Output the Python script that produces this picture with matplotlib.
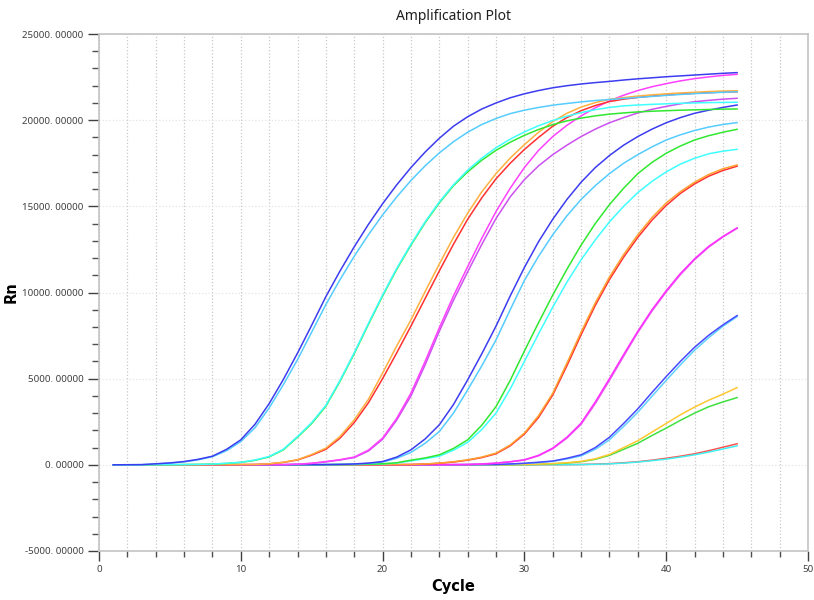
import matplotlib.pyplot as plt
from matplotlib.ticker import MultipleLocator, FuncFormatter

cycles = list(range(1, 46))

# group A (earliest)
blue_a = [0, 5, 10, 60, 110, 190, 320, 500, 900, 1450, 2350, 3550, 4950, 6480, 8100, 9760, 11250, 12650, 13950, 15150,
          16250, 17250, 18150, 18950, 19650, 20200, 20650, 21000, 21300, 21530, 21720, 21880, 22000, 22100, 22180, 22250,
          22330, 22400, 22460, 22520, 22570, 22620, 22670, 22720, 22760]
lblue_a = [0, 5, 10, 50, 95, 170, 290, 470, 820, 1350, 2150, 3300, 4650, 6100, 7700, 9300, 10750, 12100, 13350, 14500,
           15550, 16500, 17350, 18100, 18750, 19300, 19750, 20100, 20380, 20580, 20740, 20870, 20970, 21060, 21140, 21200,
           21260, 21320, 21380, 21440, 21490, 21540, 21580, 21620, 21650]
# group B
green_b = [0, 0, 0, 5, 10, 15, 25, 40, 80, 140, 260, 460, 870, 1600, 2400, 3400, 4850, 6450, 8150, 9800,
           11350, 12750, 14050, 15200, 16200, 17000, 17680, 18250, 18720, 19120, 19460, 19740, 19960, 20120, 20250, 20350,
           20420, 20480, 20520, 20550, 20580, 20600, 20620, 20640, 20650]
cyan_b = [0, 0, 0, 5, 10, 15, 25, 45, 90, 150, 280, 480, 900, 1640, 2450, 3450, 4900, 6500, 8200, 9850,
          11400, 12800, 14100, 15250, 16250, 17100, 17800, 18400, 18900, 19320, 19680, 19980, 20230, 20440, 20610, 20740,
          20830, 20880, 20920, 20950, 20980, 21000, 21020, 21030, 21040]
# group C
orange_c = [0, 0, 0, 0, 0, 5, 5, 10, 10, 15, 20, 60, 150, 300, 600, 970, 1650, 2610, 3800, 5320,
            6900, 8410, 10050, 11650, 13200, 14600, 15850, 16900, 17800, 18580, 19300, 19920, 20400, 20760, 21020, 21210,
            21310, 21400, 21470, 21530, 21580, 21620, 21660, 21690, 21710]
red_c = [0, 0, 0, 0, 0, 5, 5, 10, 10, 15, 20, 55, 140, 280, 560, 900, 1550, 2450, 3600, 5000,
         6500, 8050, 9650, 11250, 12800, 14250, 15500, 16600, 17500, 18300, 19000, 19650, 20150, 20550, 20850, 21080,
         21220, 21320, 21400, 21460, 21520, 21560, 21600, 21630, 21650]
# group D
magenta_d = [0, 0, 0, 0, 0, 0, 0, 5, 5, 5, 5, 10, 10, 40, 90, 190, 300, 450, 850, 1550,
             2700, 4160, 6000, 7950, 9800, 11500, 13150, 14700, 16050, 17250, 18250, 19050, 19700, 20250, 20720, 21120,
             21450, 21720, 21940, 22120, 22280, 22410, 22510, 22600, 22660]
violet_d = [0, 0, 0, 0, 0, 0, 0, 5, 5, 5, 5, 10, 10, 35, 80, 170, 280, 420, 800, 1480,
            2600, 4000, 5800, 7750, 9550, 11200, 12800, 14300, 15550, 16550, 17350, 18000, 18550, 19050, 19480, 19850,
            20150, 20420, 20630, 20800, 20950, 21070, 21150, 21220, 21270]
# group E
blue_e = [0, 0, 0, 0, 0, 0, 0, 0, 0, 0, 5, 5, 5, 10, 10, 15, 25, 50, 100, 190,
          450, 870, 1500, 2320, 3500, 4930, 6450, 8050, 9800, 11450, 12950, 14250, 15400, 16400, 17250, 17950,
          18550, 19050, 19480, 19850, 20150, 20400, 20580, 20740, 20880]
lblue_e = [0, 0, 0, 0, 0, 0, 0, 0, 0, 0, 5, 5, 5, 10, 10, 15, 20, 40, 80, 160,
           380, 720, 1250, 1930, 3000, 4350, 5750, 7250, 9000, 10700, 12100, 13350, 14450, 15400, 16200, 16900,
           17500, 18000, 18450, 18850, 19150, 19400, 19600, 19750, 19860]
# group F
green_f = [0, 0, 0, 0, 0, 0, 0, 0, 0, 0, 0, 0, 5, 5, 5, 10, 15, 20, 40, 60,
           120, 270, 400, 580, 950, 1450, 2300, 3380, 4900, 6600, 8250, 9850, 11350, 12750, 14000, 15100,
           16050, 16900, 17550, 18080, 18500, 18850, 19100, 19300, 19470]
cyan_f = [0, 0, 0, 0, 0, 0, 0, 0, 0, 0, 0, 0, 5, 5, 5, 10, 15, 20, 35, 50,
          100, 230, 350, 500, 850, 1300, 2050, 3000, 4400, 6000, 7600, 9150, 10600, 11900, 13050, 14100,
          15000, 15800, 16450, 17000, 17450, 17790, 18050, 18200, 18310]
# group G
orange_g = [0, 0, 0, 0, 0, 0, 0, 0, 0, 0, 0, 0, 0, 0, 0, 5, 5, 5, 10, 10,
            15, 20, 50, 100, 180, 290, 450, 680, 1150, 1840, 2850, 4150, 5900, 7700, 9400, 10900,
            12200, 13350, 14350, 15200, 15850, 16400, 16850, 17180, 17400]
red_g = [0, 0, 0, 0, 0, 0, 0, 0, 0, 0, 0, 0, 0, 0, 0, 5, 5, 5, 10, 10,
         10, 15, 40, 90, 160, 270, 420, 640, 1100, 1780, 2750, 4050, 5750, 7550, 9250, 10750,
         12050, 13200, 14200, 15050, 15750, 16300, 16750, 17080, 17330]
# group H
magenta_h1 = [0, 0, 0, 0, 0, 0, 0, 0, 0, 0, 0, 0, 0, 0, 0, 0, 0, 5, 5, 5,
              5, 10, 10, 10, 15, 20, 50, 100, 180, 290, 550, 970, 1600, 2420, 3650, 5000,
              6400, 7750, 9000, 10100, 11100, 11950, 12680, 13250, 13750]
magenta_h2 = [0, 0, 0, 0, 0, 0, 0, 0, 0, 0, 0, 0, 0, 0, 0, 0, 0, 5, 5, 5,
              5, 10, 10, 10, 15, 20, 45, 90, 170, 280, 520, 930, 1550, 2350, 3550, 4900,
              6300, 7680, 8920, 10030, 11030, 11900, 12630, 13220, 13720]
# group I
blue_i = [0, 0, 0, 0, 0, 0, 0, 0, 0, 0, 0, 0, 0, 0, 0, 0, 0, 0, 0, 0,
          0, 5, 5, 5, 5, 10, 15, 20, 50, 90, 150, 220, 380, 580, 1000, 1600,
          2400, 3250, 4200, 5120, 6000, 6820, 7520, 8120, 8660]
lblue_i = [0, 0, 0, 0, 0, 0, 0, 0, 0, 0, 0, 0, 0, 0, 0, 0, 0, 0, 0, 0,
           0, 5, 5, 5, 5, 10, 10, 20, 40, 80, 130, 200, 340, 520, 900, 1450,
           2230, 3050, 3980, 4900, 5800, 6650, 7380, 8040, 8600]
# group J
yellow_j = [0, 0, 0, 0, 0, 0, 0, 0, 0, 0, 0, 0, 0, 0, 0, 0, 0, 0, 0, 0,
            0, 0, 0, 0, 0, 5, 5, 5, 10, 20, 40, 70, 120, 200, 350, 600,
            1000, 1400, 1900, 2400, 2900, 3350, 3750, 4100, 4480]
green_j = [0, 0, 0, 0, 0, 0, 0, 0, 0, 0, 0, 0, 0, 0, 0, 0, 0, 0, 0, 0,
           0, 0, 0, 0, 0, 5, 5, 5, 10, 15, 30, 60, 100, 180, 320, 550,
           900, 1250, 1700, 2130, 2580, 3000, 3370, 3650, 3900]
# group K
red_k = [0, 0, 0, 0, 0, 0, 0, 0, 0, 0, 0, 0, 0, 0, 0, 0, 0, 0, 0, 0,
         0, 0, 0, 0, 0, 0, 0, 0, 5, 5, 5, 10, 10, 20, 40, 70,
         120, 180, 270, 380, 500, 640, 820, 1020, 1220]
cyan_k = [0, 0, 0, 0, 0, 0, 0, 0, 0, 0, 0, 0, 0, 0, 0, 0, 0, 0, 0, 0,
          0, 0, 0, 0, 0, 0, 0, 0, 5, 5, 5, 10, 10, 15, 30, 55,
          100, 160, 240, 330, 450, 580, 740, 920, 1100]

series = [
    (red_k, '#ff5050'), (cyan_k, '#40f0f0'),
    (green_j, '#40e040'), (yellow_j, '#ffc830'),
    (lblue_i, '#60d0ff'), (blue_i, '#4848ff'),
    (magenta_h2, '#e860f0'), (magenta_h1, '#ff30ff'),
    (red_g, '#ff3030'), (orange_g, '#ffa030'),
    (cyan_f, '#40ffff'), (green_f, '#30e830'),
    (lblue_e, '#55ccff'), (blue_e, '#3c3cf0'),
    (violet_d, '#cc50f0'), (magenta_d, '#ff40ff'),
    (red_c, '#ff3030'), (orange_c, '#ffb040'),
    (green_b, '#30e830'), (cyan_b, '#40ffff'),
    (lblue_a, '#55ccff'), (blue_a, '#3c3cf0'),
]

plt.rcParams['font.family'] = ['Noto Sans', 'DejaVu Sans']

fig = plt.figure(figsize=(8.14, 6.0), dpi=100)
ax = fig.add_axes([0.1216, 0.0817, 0.8710, 0.8616])

for vals, col in series:
    ax.plot(cycles, vals, color=col, linewidth=1.1)

ax.set_xlim(0, 50)
ax.set_ylim(-5000, 25000)
ax.xaxis.set_major_locator(MultipleLocator(10))
ax.xaxis.set_minor_locator(MultipleLocator(2))
ax.yaxis.set_major_locator(MultipleLocator(5000))
ax.yaxis.set_minor_locator(MultipleLocator(1000))
ax.yaxis.set_major_formatter(FuncFormatter(lambda v, p: f"{v:.5f}".replace('.', '. ')))

ax.grid(which='minor', axis='x', linestyle=':', color='#c8c8c8', linewidth=0.9)
ax.grid(which='major', axis='x', linestyle=':', color='#c8c8c8', linewidth=0.9)
ax.grid(which='major', axis='y', linestyle=':', color='#e4e4e4', linewidth=0.9)

for s in ax.spines.values():
    s.set_color('#c4c4c4')
    s.set_linewidth(1.2)

ax.tick_params(which='major', length=8, width=1, color='#404040', labelsize=7, labelcolor='#404040', pad=3)
ax.tick_params(which='minor', length=5, width=1, color='#505050')
ax.tick_params(axis='x', which='major', length=7)
ax.tick_params(axis='x', which='minor', length=4)

ax.set_title('Amplification Plot', fontsize=10, color='#202020', pad=10)
ax.set_xlabel('Cycle', fontsize=10.5, fontweight='bold', family='DejaVu Sans', labelpad=4)
ax.set_ylabel('Rn', fontsize=10.5, fontweight='bold', family='DejaVu Sans', labelpad=3)

fig.savefig('out.png', dpi=100)
